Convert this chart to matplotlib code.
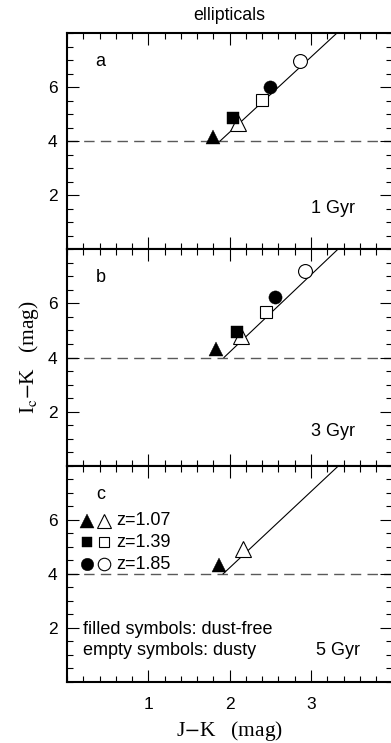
import numpy as np
import matplotlib
matplotlib.use('Agg')
import matplotlib.pyplot as plt
from matplotlib.ticker import MultipleLocator

plt.rcParams['font.family'] = ['Liberation Sans', 'DejaVu Sans']
plt.rcParams['mathtext.fontset'] = 'stix'

# data
ages = ['1 Gyr', '3 Gyr', '5 Gyr']
panel_labels = ['a', 'b', 'c']
redshifts = ['1.07', '1.39', '1.85']
markers = ['^', 's', 'o']
nan = np.nan
# filled symbols: dust-free, empty symbols: dusty  (one row per panel, one column per redshift)
jk_free = [[1.80, 2.04, 2.49], [1.83, 2.09, 2.56], [1.87, nan, nan]]
ik_free = [[4.17, 4.84, 6.01], [4.30, 4.95, 6.23], [4.32, nan, nan]]
jk_dusty = [[2.10, 2.40, 2.86], [2.14, 2.45, 2.93], [2.16, nan, nan]]
ik_dusty = [[4.69, 5.53, 6.96], [4.80, 5.67, 7.20], [4.91, nan, nan]]
# selection line
line_jk = [[1.88, 3.32], [1.93, 3.33], [1.92, 3.34]]
line_ik = [4.0, 8.0]
ik_cut = 4.0

fs = 13

fig = plt.figure(figsize=(3.91, 7.43), dpi=100)
left, width = 67 / 391, 0.832
bottom, top = 1 - 682 / 743, 1 - 33 / 743
h = (top - bottom) / 3

axes = []
for i in range(3):
    ax = fig.add_axes([left, top - (i + 1) * h, width, h])
    axes.append(ax)
    ax.set_xlim(0, 4)
    ax.set_ylim(0, 8)
    ax.set_xticks([1, 2, 3])
    ax.xaxis.set_minor_locator(MultipleLocator(0.2))
    ax.set_yticks([2, 4, 6])
    ax.yaxis.set_minor_locator(MultipleLocator(0.5))
    ax.tick_params(which='both', direction='in', top=True, right=True, width=0.8,
                   labelsize=12.5)
    ax.tick_params(which='major', length=8.5, pad=7)
    ax.tick_params(which='minor', length=4)
    ax.tick_params(axis='x', pad=11)
    for s in ax.spines.values():
        s.set_linewidth(1.5)
    if i < 2:
        ax.tick_params(labelbottom=False)

    ax.axhline(ik_cut, color='0.35', lw=1.0, dashes=(7.5, 4.5), zorder=1)
    ax.plot(line_jk[i], line_ik, color='k', lw=0.8, zorder=2)
    for j in range(3):
        ms = 10.5 if markers[j] == '^' else (8 if markers[j] == 's' else 9.5)
        ax.plot(jk_dusty[i][j], ik_dusty[i][j], marker=markers[j], ms=ms + 0.5,
                mfc='white', mec='k', mew=0.8, ls='none', zorder=3)
        ax.plot(jk_free[i][j], ik_free[i][j], marker=markers[j], ms=ms,
                mfc='k', mec='k', mew=0.3, ls='none', zorder=4)

    ax.text(0.41, 6.94, panel_labels[i], fontsize=fs, va='center', ha='center')

axes[0].text(3.0, 1.5, ages[0], fontsize=fs, va='center')
axes[1].text(3.0, 1.25, ages[1], fontsize=fs, va='center')
axes[2].text(3.06, 1.16, ages[2], fontsize=fs, va='center')

# legend in panel c
ax = axes[2]
leg_y = [5.97, 5.17, 4.36]
for j in range(3):
    ms = 10 if markers[j] == '^' else (7.5 if markers[j] == 's' else 9)
    ax.plot(0.25, leg_y[j], marker=markers[j], ms=ms, mfc='k', mec='k', mew=0.3, ls='none')
    ax.plot(0.455, leg_y[j], marker=markers[j], ms=ms, mfc='white', mec='k', mew=0.8, ls='none')
    ax.text(0.6, leg_y[j], 'z=' + redshifts[j], fontsize=fs, va='center')
ax.text(0.2, 1.93, 'filled symbols: dust-free', fontsize=fs, va='center')
ax.text(0.2, 1.16, 'empty symbols: dusty', fontsize=fs, va='center')

axes[0].set_title('ellipticals', fontsize=12.8, pad=9)
axes[2].set_xlabel(r'J$-$K   (mag)', family='Liberation Serif', fontsize=15.5, labelpad=5)
axes[1].set_ylabel(r'I$_{\rm c}$$-$K   (mag)', family='Liberation Serif', fontsize=15.5,
                   labelpad=5)

plt.savefig('out.png', dpi=100)
